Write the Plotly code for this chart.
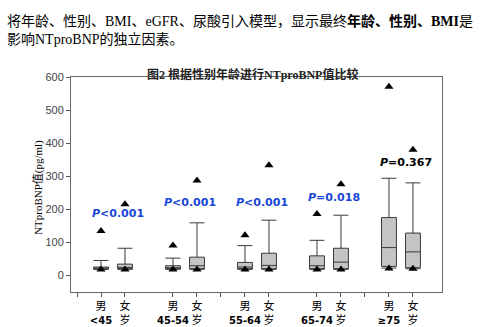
import plotly.graph_objects as go

groups = ["&lt;45", "45-54", "55-64", "65-74", "≥75"]
sexes = ["男", "女"]

# male boxes per age group
m_q1 = [19, 20, 20, 20, 27]
m_med = [21, 23, 25, 29, 84]
m_q3 = [25, 29, 39, 59, 175]
m_upper = [45, 52, 90, 106, 294]
m_lower = [18, 18, 18, 18, 22]
m_max = [134, 90, 121, 186, 571]
m_min = [18, 18, 18, 18, 21]

# female boxes per age group
f_q1 = [20, 20, 20, 20, 23]
f_med = [24, 29, 30, 40, 71]
f_q3 = [34, 55, 67, 82, 128]
f_upper = [82, 159, 167, 182, 280]
f_lower = [18, 18, 18, 18, 20]
f_max = [215, 287, 333, 276, 380]
f_min = [18, 18, 18, 18, 20]

p_text = ["<i>P</i>&lt;0.001", "<i>P</i>&lt;0.001", "<i>P</i>&lt;0.001", "<i>P</i>=0.018", "<i>P</i>=0.367"]
p_y = [186, 221, 222, 235, 343]
p_color = ["#1a47d8", "#1a47d8", "#1a47d8", "#1a47d8", "#000000"]

y_ticks = [0, 100, 200, 300, 400, 500, 600]

n = len(groups)
xm = [1 + 3 * i for i in range(n)]
xf = [2 + 3 * i for i in range(n)]

W, H = 484, 327
fig = go.Figure()

box_style = dict(fillcolor="#c4c4c4", line=dict(color="#3a3a3a", width=1),
                 width=0.62, whiskerwidth=1, boxpoints=False, showlegend=False,
                 hoverinfo="skip")
fig.add_trace(go.Box(x=xm, q1=m_q1, median=m_med, q3=m_q3, lowerfence=m_lower,
                     upperfence=m_upper, **box_style))
fig.add_trace(go.Box(x=xf, q1=f_q1, median=f_med, q3=f_q3, lowerfence=f_lower,
                     upperfence=f_upper, **box_style))

tri = dict(mode="markers", marker=dict(symbol="triangle-up", size=8, color="black"),
           showlegend=False, hoverinfo="skip")
fig.add_trace(go.Scatter(x=xm + xf, y=m_max + f_max, **tri))
fig.add_trace(go.Scatter(x=xm + xf, y=m_min + f_min, **tri))

for i in range(n):
    fig.add_annotation(x=(xm[i] + xf[i]) / 2 + 0.2, y=p_y[i], xref="x", yref="y",
                       text="<b>" + p_text[i] + "</b>", showarrow=False,
                       font=dict(family="DejaVu Sans", size=11, color=p_color[i]))

tickvals = []
ticktext = []
for i in range(n):
    tickvals += [xm[i], xf[i]]
    ticktext += [sexes[0] + "<br><b><span style='font-size:10px'>" + groups[i] + "</span></b>",
                 sexes[1] + "<br>岁"]
for s in [0, 6, 12]:
    tickvals.append(s)
    ticktext.append("")

x0, x1 = 71, 442
y0, y1 = 73, 293
fig.update_layout(
    width=W, height=H, margin=dict(l=0, r=0, t=0, b=0),
    paper_bgcolor="white", plot_bgcolor="white",
    xaxis=dict(domain=[x0 / W, x1 / W], range=[-0.25, 15.21], tickvals=tickvals,
               ticktext=ticktext, ticks="outside", ticklen=4, tickcolor="#555",
               tickangle=0,
               showline=True, linecolor="#666", linewidth=1, mirror=True,
               showgrid=False, zeroline=False,
               tickfont=dict(family="DejaVu Sans, Noto Sans CJK SC", size=11, color="black")),
    yaxis=dict(domain=[1 - y1 / H, 1 - y0 / H], range=[-50, 600], tickvals=y_ticks,
               ticks="outside", ticklen=4, tickcolor="#555",
               showline=True, linecolor="#666", linewidth=1, mirror=True,
               showgrid=False, zeroline=False,
               tickfont=dict(family="Liberation Sans, Arial", size=11, color="#444")),
)

fig.add_annotation(x=5 / W, y=1 - 5 / H, xref="paper", yref="paper", xanchor="left",
                   yanchor="top", align="left", showarrow=False,
                   text="将年龄、性别、BMI、eGFR、尿酸引入模型，显示最终<b>年龄、性别、BMI</b>是<br>影响NTproBNP的独立因素。",
                   font=dict(family="Liberation Serif, Noto Sans CJK SC", size=14, color="black"))
fig.add_annotation(x=252 / W, y=1 - 60 / H, xref="paper", yref="paper",
                   showarrow=False, text="<b>图2 根据性别年龄进行NTproBNP值比较</b>",
                   font=dict(family="Liberation Serif, Noto Sans CJK SC", size=12, color="#222"))
fig.add_annotation(x=30 / W, y=1 - 186 / H, xref="paper", yref="paper",
                   showarrow=False, textangle=-90, text="NTproBNP值(pg/ml)",
                   font=dict(family="Liberation Serif, Noto Sans CJK SC", size=11, color="black"))

fig.write_html("out.html")
